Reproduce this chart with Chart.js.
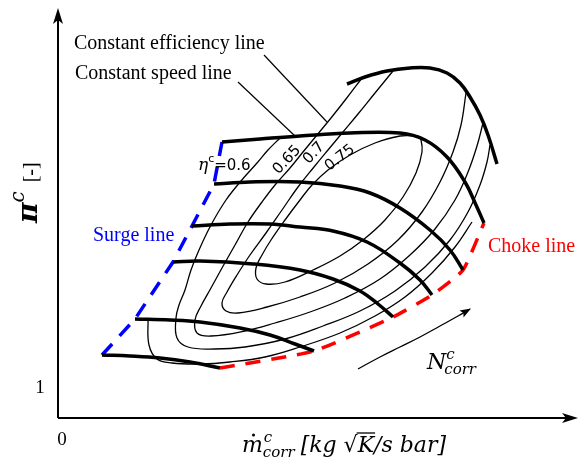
<!DOCTYPE html>
<html>
<head>
<meta charset="utf-8">
<title>Compressor map</title>
<script src="https://cdn.jsdelivr.net/npm/chart.js@4.4.1/dist/chart.umd.min.js"></script>
<style>
  html, body { margin: 0; padding: 0; background: #ffffff; }
  canvas { display: block; }
</style>
</head>
<body>
<canvas id="map" width="579" height="465"></canvas>
<script>
// corrected mass flow (x) vs pressure ratio (y) (arbitrary units)
var speed1 = [[0.44,1.33],[0.72,1.32],[1.02,1.30],[1.32,1.26],[1.62,1.20]];
var speed2 = [[0.77,1.69],[1.12,1.68],[1.42,1.66],[1.82,1.60],[2.12,1.53],[2.37,1.44],[2.56,1.37]];
var speed3 = [[1.15,2.26],[1.42,2.27],[1.95,2.24],[2.42,2.18],[2.75,2.09],[3.02,1.97],[3.20,1.84],[3.35,1.71]];
var speed4 = [[1.34,2.62],[1.72,2.64],[2.12,2.64],[2.42,2.61],[2.75,2.57],[3.09,2.46],[3.42,2.25],[3.62,2.08],[3.74,1.93]];
var speed5 = [[1.56,3.04],[1.92,3.06],[2.42,3.06],[2.82,3.02],[3.12,2.95],[3.42,2.80],[3.72,2.58],[3.92,2.38],[4.05,2.18]];
var speed6 = [[1.64,3.46],[2.02,3.49],[2.42,3.52],[2.92,3.55],[3.42,3.55],[3.67,3.48],[3.89,3.31],[4.07,3.06],[4.18,2.83],[4.26,2.65]];
var speed7 = [[2.89,4.04],[3.07,4.11],[3.29,4.17],[3.52,4.20],[3.72,4.20],[3.89,4.15],[4.02,4.05],[4.12,3.91],[4.22,3.73],[4.30,3.53],[4.39,3.24]];

var surge = [[0.44,1.33],[0.77,1.69],[1.15,2.26],[1.34,2.62],[1.56,3.04],[1.64,3.46]];
var choke = [[1.62,1.20],[2.56,1.37],[3.35,1.71],[3.74,1.93],[4.05,2.18],[4.26,2.65]];

// efficiency contours, outermost first
var eta55 = [[0.90,1.69],[0.91,1.43],[0.99,1.29],[1.14,1.25],[1.42,1.24],[1.72,1.26],[2.07,1.31],[2.42,1.41],[2.82,1.55],[3.17,1.72],[3.47,1.91],[3.74,2.15],[3.97,2.41],[4.14,2.66]];
var eta60 = [[2.22,3.50],[2.10,3.38],[1.99,3.25],[1.83,3.07],[1.68,2.88],[1.53,2.63],[1.41,2.38],[1.33,2.18],[1.27,1.98],[1.21,1.83],[1.18,1.70],[1.19,1.50],[1.30,1.41],[1.57,1.39],[1.87,1.41],[2.27,1.49],[2.65,1.62],[3.02,1.77],[3.37,1.97],[3.67,2.21],[3.92,2.48],[4.10,2.76],[4.22,3.03],[4.29,3.26],[4.32,3.43]];
var eta65 = [[3.04,4.10],[2.88,3.89],[2.73,3.70],[2.59,3.53],[2.45,3.36],[2.32,3.20],[2.17,3.03],[2.04,2.86],[1.90,2.66],[1.77,2.43],[1.64,2.20],[1.53,2.00],[1.43,1.82],[1.37,1.68],[1.39,1.55],[1.53,1.52],[1.87,1.57],[2.17,1.65],[2.52,1.76],[2.87,1.90],[3.22,2.09],[3.52,2.33],[3.77,2.59],[3.97,2.88],[4.10,3.16],[4.19,3.42],[4.25,3.65]];
var eta70 = [[3.35,4.17],[3.17,3.95],[3.00,3.74],[2.85,3.56],[2.70,3.38],[2.56,3.21],[2.40,3.01],[2.24,2.78],[2.08,2.55],[1.92,2.33],[1.79,2.13],[1.69,1.96],[1.64,1.85],[1.68,1.77],[1.80,1.75],[2.09,1.81],[2.42,1.91],[2.77,2.05],[3.10,2.24],[3.40,2.48],[3.64,2.76],[3.82,3.06],[3.95,3.36],[4.03,3.63],[4.08,3.95]];
var eta75 = [[3.60,3.52],[3.42,3.52],[3.17,3.45],[2.92,3.33],[2.70,3.18],[2.54,3.03],[2.42,2.88],[2.27,2.68],[2.13,2.48],[2.04,2.33],[1.98,2.20],[1.99,2.09],[2.08,2.04],[2.27,2.06],[2.55,2.18],[2.82,2.32],[3.05,2.48],[3.27,2.68],[3.45,2.91],[3.58,3.15],[3.64,3.36],[3.63,3.48],[3.60,3.52]];

// call-out leaders and the speed arrow
var leaderEff = [[2.06,4.33],[2.69,3.66]];
var leaderSpeed = [[1.80,4.06],[2.37,3.52]];
var speedArrow = [[3.00,1.19],[3.22,1.31],[3.42,1.41],[3.62,1.51],[3.82,1.62],[4.00,1.72],[4.12,1.79]];

var xTicks = [0];
var yTicks = [1];

function pts(arr) {
    return arr.map(function (p) { return { x: p[0], y: p[1] }; });
}

function line(arr, width, extra) {
    var ds = {
        data: pts(arr),
        showLine: true,
        pointRadius: 0,
        borderColor: '#000000',
        borderWidth: width,
        tension: 0.4,
        fill: false
    };
    return Object.assign(ds, extra || {});
}

function arrowHead(ctx, x, y, ang, len, half, notch) {
    ctx.save();
    ctx.translate(x, y);
    ctx.rotate(ang);
    ctx.beginPath();
    ctx.moveTo(0, 0);
    ctx.lineTo(-len, -half);
    ctx.lineTo(-len * notch, 0);
    ctx.lineTo(-len, half);
    ctx.closePath();
    ctx.fill();
    ctx.restore();
}

// draws a run of text pieces left to right, returns end x
function run(ctx, x, y, parts) {
    parts.forEach(function (p) {
        ctx.font = p.font;
        ctx.fillStyle = p.color || '#000000';
        var px = x + (p.dx || 0);
        ctx.fillText(p.text, px, y + (p.dy || 0));
        if (!p.hold) x = px + ctx.measureText(p.text).width;
    });
    return x;
}

var decor = {
    id: 'decor',
    afterDraw: function (chart) {
        var ctx = chart.ctx;
        var xs = chart.scales.x, ys = chart.scales.y;
        var x0 = xs.getPixelForValue(0), yb = ys.getPixelForValue(ys.min);
        var xr = xs.right, yt = ys.top;

        ctx.save();
        ctx.strokeStyle = '#000';
        ctx.fillStyle = '#000';
        ctx.lineWidth = 2;
        ctx.beginPath();
        ctx.moveTo(x0, yb);
        ctx.lineTo(xr - 8, yb);
        ctx.moveTo(x0, yb);
        ctx.lineTo(x0, yt + 8);
        ctx.stroke();
        arrowHead(ctx, xr, yb, 0, 16, 5, 0.75);
        arrowHead(ctx, x0, yt, -Math.PI / 2, 16, 5, 0.75);

        // arrow head on the speed arrow
        var n = speedArrow.length;
        var ax = xs.getPixelForValue(speedArrow[n - 1][0]), ay = ys.getPixelForValue(speedArrow[n - 1][1]);
        var bx = xs.getPixelForValue(speedArrow[n - 2][0]), by = ys.getPixelForValue(speedArrow[n - 2][1]);
        arrowHead(ctx, ax + 1, ay - 0.5, Math.atan2(ay - by, ax - bx), 11, 4, 0.8);

        // ticks
        ctx.font = '19px "Liberation Serif"';
        ctx.textAlign = 'center';
        ctx.textBaseline = 'middle';
        xTicks.forEach(function (v) { ctx.fillText(String(v), xs.getPixelForValue(v) + 4, yb + 22); });
        yTicks.forEach(function (v) { ctx.fillText(String(v), x0 - 18, ys.getPixelForValue(v)); });

        // call-out texts
        ctx.textAlign = 'left';
        ctx.font = '20px "Liberation Serif"';
        ctx.fillText('Constant efficiency line', 74, 44);
        ctx.fillText('Constant speed line', 75, 74);
        ctx.fillStyle = '#0000ff';
        ctx.fillText('Surge line', 93, 236);
        ctx.fillStyle = '#ff0000';
        ctx.fillText('Choke line', 488, 247);

        // efficiency labels
        ctx.textBaseline = 'alphabetic';
        ctx.fillStyle = '#000';
        run(ctx, 198, 170, [
            { text: '\u03b7', font: 'italic 17px "DejaVu Serif"' },
            { text: 'c', font: '11px "DejaVu Sans"', dy: -8 },
            { text: '=0.6', font: '15px "DejaVu Sans"' }
        ]);
        ctx.font = '15px "DejaVu Sans"';
        ctx.textAlign = 'center';
        ctx.textBaseline = 'middle';
        [['0.65', 287, 160, -47], ['0.7', 314, 153, -47], ['0.75', 340, 158, -38]].forEach(function (l) {
            ctx.save();
            ctx.translate(l[1], l[2]);
            ctx.rotate(l[3] * Math.PI / 180);
            ctx.fillText(l[0], 0, 0);
            ctx.restore();
        });

        // N_corr
        ctx.textAlign = 'left';
        ctx.textBaseline = 'alphabetic';
        var nx = run(ctx, 427, 369, [{ text: 'N', font: 'italic 22px "DejaVu Serif"' }]);
        run(ctx, nx, 369, [
            { text: 'c', font: 'italic 15px "DejaVu Serif"', dy: -10, hold: true },
            { text: 'corr', font: 'italic 15px "DejaVu Serif"', dx: -2, dy: 5 }
        ]);

        // x axis title
        var bx0 = 242, base = 452;
        ctx.font = 'italic 22px "DejaVu Serif"';
        ctx.fillText('m', bx0, base);
        var mw = ctx.measureText('m').width;
        ctx.beginPath();
        ctx.arc(bx0 + mw * 0.55, base - 17, 1.5, 0, Math.PI * 2);
        ctx.fill();
        var cx = bx0 + mw;
        ctx.font = 'italic 15px "DejaVu Serif"';
        ctx.fillText('c', cx + 1, base - 10);
        ctx.fillText('corr', cx, base + 5);
        cx += ctx.measureText('corr').width + 6;
        ctx.font = 'italic 22px "DejaVu Serif"';
        ctx.fillText('[kg ', cx, base);
        cx += ctx.measureText('[kg ').width;
        ctx.font = '22px "DejaVu Serif"';
        ctx.fillText('\u221a', cx, base);
        cx += ctx.measureText('\u221a').width;
        ctx.font = 'italic 22px "DejaVu Serif"';
        var kw = ctx.measureText('K').width;
        ctx.fillText('K', cx, base);
        ctx.lineWidth = 1.3;
        ctx.beginPath();
        ctx.moveTo(cx - 1, base - 19);
        ctx.lineTo(cx + kw + 1, base - 19);
        ctx.stroke();
        cx += kw;
        ctx.fillText('/s bar]', cx, base);

        // y axis title, rotated
        ctx.save();
        ctx.translate(37, 223);
        ctx.rotate(-Math.PI / 2);
        run(ctx, 0, 0, [
            { text: '\u03c0', font: 'bold italic 28px "DejaVu Serif"' },
            { text: 'c', font: 'italic 20px "DejaVu Serif"', dy: -13 },
            { text: ' [-]', font: '20px "Liberation Serif"', dx: 4 }
        ]);
        ctx.restore();
        ctx.restore();
    }
};

var blue = '#0000ff', red = '#ff0000';

new Chart(document.getElementById('map'), {
    type: 'scatter',
    data: {
        datasets: [
            line(speed1, 3.5), line(speed2, 3.5), line(speed3, 3.5), line(speed4, 3.5),
            line(speed5, 3.5), line(speed6, 3.5), line(speed7, 3.5),
            line(surge, 3.5, { borderColor: blue, borderDash: [15, 11], tension: 0 }),
            line(choke, 3.5, { borderColor: red, borderDash: [15, 11], tension: 0.15 }),
            line(eta55, 1.3), line(eta60, 1.3), line(eta65, 1.3), line(eta70, 1.3), line(eta75, 1.3),
            line(leaderEff, 1.2, { tension: 0 }), line(leaderSpeed, 1.2, { tension: 0 }),
            line(speedArrow, 1.3)
        ]
    },
    options: {
        responsive: false,
        animation: false,
        devicePixelRatio: 1,
        layout: { padding: { left: 58, right: 1, top: 8, bottom: 47 } },
        scales: {
            x: { type: 'linear', min: 0, max: 5.20, display: false },
            y: { type: 'linear', min: 0.70, max: 4.80, display: false }
        },
        plugins: { legend: { display: false }, tooltip: { enabled: false } }
    },
    plugins: [decor]
});
</script>
</body>
</html>
